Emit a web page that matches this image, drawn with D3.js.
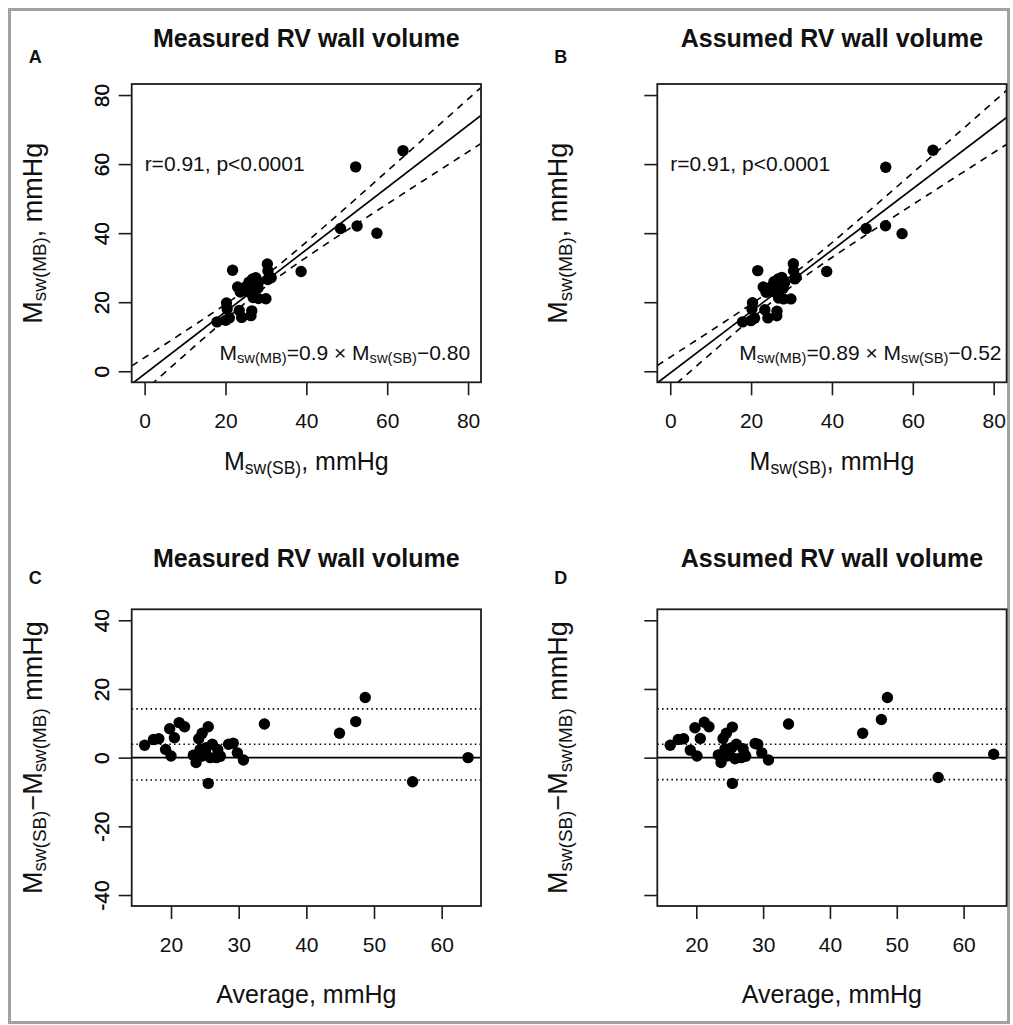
<!DOCTYPE html>
<html>
<head>
<meta charset="utf-8">
<script src="https://cdn.jsdelivr.net/npm/d3@7"></script>
<style>
  html, body { margin: 0; padding: 0; background: #fff; }
  svg { display: block; }
  text { font-family: "Liberation Sans", Arial, Helvetica, sans-serif; fill: #111; }
</style>
</head>
<body>
<svg id="fig" width="1013" height="1025"></svg>
<script>
// Paired stroke-work readings per subject, stored as the mean of the two
// methods and their difference (single-beat minus multi-beat), mmHg.
const avgMeasured  = [16.1, 17.4, 18.2, 19.2, 20.0, 19.8, 20.5, 21.2, 22.0, 23.3, 23.7, 24.1,
                      24.6, 25.5, 24.3, 25.1, 26.1, 25.8, 26.9, 26.7, 25.5, 28.5, 29.2, 29.8,
                      30.7, 33.8, 44.9, 47.3, 48.7, 55.7, 63.9, 24.6, 25.2, 27.0, 23.9, 27.3];
const diffMeasured = [3.6, 5.3, 5.5, 2.4, 0.5, 8.4, 5.8, 10.2, 9.0, 0.7, -1.4, 5.5,
                      7.1, 9.0, 2.4, 1.4, 3.9, 0.0, 2.4, 0.0, -7.5, 3.9, 4.2, 1.4,
                      -0.7, 9.8, 7.1, 10.5, 17.5, -7.0, 0.0, 0.5, 2.9, 1.0, 0.9, 0.4];

const avgAssumed   = [16.1, 17.3, 18.1, 19.1, 20.1, 19.8, 20.6, 21.2, 21.9, 23.3, 23.7, 24.0,
                      24.5, 25.4, 24.3, 24.9, 26.0, 25.8, 27.0, 26.7, 25.4, 28.8, 29.2, 29.8,
                      30.8, 33.8, 44.9, 47.7, 48.6, 56.2, 64.5, 24.6, 25.3, 27.2, 24.0, 27.4];
const diffAssumed  = [3.6, 5.3, 5.5, 2.2, 0.5, 8.7, 5.6, 10.3, 9.0, 0.8, -1.4, 5.6,
                      7.1, 8.9, 2.6, 1.3, 3.9, -0.3, 2.6, 0.0, -7.5, 4.1, 3.9, 1.4,
                      -0.7, 9.8, 7.1, 11.1, 17.5, -5.8, 1.0, 0.5, 2.9, 1.0, 0.9, 0.4];

// Regression of multi-beat on single-beat values
const fitMeasured = { slope: 0.9,  intercept: -0.80, label: ["0.9", "0.80"] };
const fitAssumed  = { slope: 0.89, intercept: -0.52, label: ["0.89", "0.52"] };
const corrLabel = "r=0.91, p<0.0001";
const tCrit = 2.03;   // t quantile for the 95% confidence band

// Bias and 95% limits of agreement
const limitsMeasured = { lower: -6.5, bias: 3.9, upper: 14.2 };
const limitsAssumed  = { lower: -6.4, bias: 3.9, upper: 14.2 };

// Axis limits and ticks
const scatterLim   = [0, 80];
const scatterTicks = [0, 20, 40, 60, 80];
const diffLim      = [-40, 40];
const diffTicks    = [-40, -20, 0, 20, 40];
const avgTicks     = [20, 30, 40, 50, 60];

const titles = ["Measured RV wall volume", "Assumed RV wall volume"];

// ---------------------------------------------------------------------------
const svg = d3.select("#fig");
const INK = "#1c1c1c";
const FONT_TICK = 21, FONT_NOTE = 21, FONT_XLAB = 25, FONT_YLAB = 27, FONT_TITLE = 25, FONT_TAG = 18;

// 4% padding either side, as base R graphics does
const pad = ([a, b]) => { const r = b - a; return [a - 0.04 * r, b + 0.04 * r]; };

// Text with optional subscripts
function rich(parent, parts, size) {
  const t = parent.append("text").attr("font-size", size);
  let shift = 0;
  parts.forEach(p => {
    const ts = t.append("tspan").text(p.t);
    const want = p.sub ? size * 0.16 : 0;
    if (want !== shift) { ts.attr("dy", want - shift); shift = want; }
    if (p.sub) ts.attr("font-size", size * 0.7);
  });
  return t;
}

svg.append("rect").attr("x", 0).attr("y", 0).attr("width", 1013).attr("height", 1025).attr("fill", "#fff");
svg.append("rect")
  .attr("x", 9.5).attr("y", 9.5).attr("width", 999).attr("height", 1013)
  .attr("fill", "none").attr("stroke", "#a2a2a2").attr("stroke-width", 3);

const boxes = {
  A: { x0: 131.7, x1: 481.0, y0: 84.0,  y1: 382.3 },
  B: { x0: 657.3, x1: 1006.6, y0: 84.0, y1: 382.3 },
  C: { x0: 131.7, x1: 481.0, y0: 609.3, y1: 906.0 },
  D: { x0: 657.3, x1: 1006.6, y0: 609.3, y1: 906.0 }
};

function frame(g, b, id) {
  g.append("clipPath").attr("id", id).append("rect")
    .attr("x", b.x0).attr("y", b.y0).attr("width", b.x1 - b.x0).attr("height", b.y1 - b.y0);
}

function styleAxis(a) {
  a.select(".domain").remove();
  a.selectAll(".tick line").attr("stroke", INK).attr("stroke-width", 1.6);
  a.selectAll(".tick text").attr("font-size", FONT_TICK).attr("fill", "#111")
    .attr("font-family", null);
  a.attr("font-family", null).attr("font-size", null);
}

function axes(g, b, x, y, xt, yt) {
  g.append("g").attr("transform", `translate(0,${b.y1})`)
    .call(d3.axisBottom(x).tickValues(xt).tickSize(13).tickPadding(18).tickFormat(d => String(d)))
    .call(styleAxis);
  g.append("g").attr("transform", `translate(${b.x0},0)`)
    .call(d3.axisLeft(y).tickValues(yt).tickSize(13).tickFormat(d => String(d)))
    .call(styleAxis)
    .call(a => a.selectAll(".tick text")
      .attr("transform", "rotate(-90)")
      .attr("x", 0).attr("y", -(b.x0 - 109)).attr("dy", 0)
      .attr("text-anchor", "middle"));
  g.append("rect")
    .attr("x", b.x0).attr("y", b.y0).attr("width", b.x1 - b.x0).attr("height", b.y1 - b.y0)
    .attr("fill", "none").attr("stroke", INK).attr("stroke-width", 1.8);
}

function yTitle(g, b, parts) {
  rich(g.append("g").attr("transform", `translate(${b.x0 - 90},${(b.y0 + b.y1) / 2}) rotate(-90)`),
       parts, FONT_YLAB)
    .attr("x", 0).attr("y", 0).attr("text-anchor", "middle");
}

function scatterPanel(key, avg, diff, fit) {
  const b = boxes[key];
  const g = svg.append("g");
  const clipId = "clip" + key;
  frame(g, b, clipId);

  const sb = avg.map((a, i) => a + diff[i] / 2);
  const mb = avg.map((a, i) => a - diff[i] / 2);

  const x = d3.scaleLinear().domain(pad(scatterLim)).range([b.x0, b.x1]);
  const y = d3.scaleLinear().domain(pad(scatterLim)).range([b.y1, b.y0]);
  const plot = g.append("g").attr("clip-path", `url(#${clipId})`);

  // confidence band of the fitted line
  const n = sb.length, xbar = d3.mean(sb);
  const sxx = d3.sum(sb, v => (v - xbar) ** 2);
  const resid = sb.map((v, i) => mb[i] - (fit.slope * v + fit.intercept));
  const s = Math.sqrt(d3.sum(resid, r => r * r) / (n - 2));
  const half = v => tCrit * s * Math.sqrt(1 / n + (v - xbar) ** 2 / sxx);
  const [d0, d1] = x.domain();
  const grid = d3.range(0, 121).map(i => d0 + (d1 - d0) * i / 120);
  const fitAt = v => fit.slope * v + fit.intercept;

  const line = d3.line().x(d => x(d[0])).y(d => y(d[1]));
  [1, -1].forEach(sign => {
    plot.append("path")
      .attr("d", line(grid.map(v => [v, fitAt(v) + sign * half(v)])))
      .attr("fill", "none").attr("stroke", "#000").attr("stroke-width", 1.6)
      .attr("stroke-dasharray", "7,6");
  });
  plot.append("path")
    .attr("d", line([[d0, fitAt(d0)], [d1, fitAt(d1)]]))
    .attr("fill", "none").attr("stroke", "#000").attr("stroke-width", 1.7);

  plot.selectAll("circle").data(sb).join("circle")
    .attr("cx", d => x(d)).attr("cy", (d, i) => y(mb[i])).attr("r", 5.7).attr("fill", "#000");

  axes(g, b, x, y, scatterTicks, scatterTicks);

  g.append("text").attr("x", x(0)).attr("y", y(58.1)).attr("font-size", FONT_NOTE).text(corrLabel);
  rich(g, [{ t: "M" }, { t: "sw(MB)", sub: true }, { t: "=" + fit.label[0] + " \u00d7 M" },
           { t: "sw(SB)", sub: true }, { t: "\u2212" + fit.label[1] }], FONT_NOTE)
    .attr("x", x(49.5)).attr("y", y(3.27)).attr("text-anchor", "middle");

  // axis titles
  rich(g, [{ t: "M" }, { t: "sw(SB)", sub: true }, { t: ", mmHg" }], FONT_XLAB)
    .attr("x", (b.x0 + b.x1) / 2).attr("y", 470).attr("text-anchor", "middle");
  yTitle(g, b, [{ t: "M" }, { t: "sw(MB)", sub: true }, { t: ", mmHg" }]);
}

function agreementPanel(key, avg, diff, lim) {
  const b = boxes[key];
  const g = svg.append("g");
  const clipId = "clip" + key;
  frame(g, b, clipId);

  const x = d3.scaleLinear().domain(pad(d3.extent(avg))).range([b.x0, b.x1]);
  const y = d3.scaleLinear().domain(pad(diffLim)).range([b.y1, b.y0]);
  const plot = g.append("g").attr("clip-path", `url(#${clipId})`);

  [lim.upper, lim.bias, lim.lower].forEach(v => {
    plot.append("line").attr("x1", b.x0).attr("x2", b.x1).attr("y1", y(v)).attr("y2", y(v))
      .attr("stroke", "#000").attr("stroke-width", 1.6).attr("stroke-dasharray", "1.5,3.2");
  });
  plot.append("line").attr("x1", b.x0).attr("x2", b.x1).attr("y1", y(0)).attr("y2", y(0))
    .attr("stroke", "#000").attr("stroke-width", 1.8);

  plot.selectAll("circle").data(avg).join("circle")
    .attr("cx", d => x(d)).attr("cy", (d, i) => y(diff[i])).attr("r", 5.7).attr("fill", "#000");

  axes(g, b, x, y, avgTicks, diffTicks);

  g.append("text").attr("x", (b.x0 + b.x1) / 2).attr("y", 1003).attr("text-anchor", "middle")
    .attr("font-size", FONT_XLAB).text("Average, mmHg");
  yTitle(g, b, [{ t: "M" }, { t: "sw(SB)", sub: true }, { t: "\u2212M" }, { t: "sw(MB)", sub: true }, { t: " mmHg" }]);
}

scatterPanel("A", avgMeasured, diffMeasured, fitMeasured);
scatterPanel("B", avgAssumed, diffAssumed, fitAssumed);
agreementPanel("C", avgMeasured, diffMeasured, limitsMeasured);
agreementPanel("D", avgAssumed, diffAssumed, limitsAssumed);

// panel titles and tags
[["A", 0, 47, 63], ["B", 1, 47, 63], ["C", 0, 567, 584], ["D", 1, 567, 584]].forEach(([k, col, ty, tagY]) => {
  const b = boxes[k];
  svg.append("text").attr("x", (b.x0 + b.x1) / 2).attr("y", ty).attr("text-anchor", "middle")
    .attr("font-size", FONT_TITLE).attr("font-weight", "bold").text(titles[col]);
  svg.append("text").attr("x", b.x0 - 103).attr("y", tagY)
    .attr("font-size", FONT_TAG).attr("font-weight", "bold").text(k);
});
</script>
</body>
</html>
